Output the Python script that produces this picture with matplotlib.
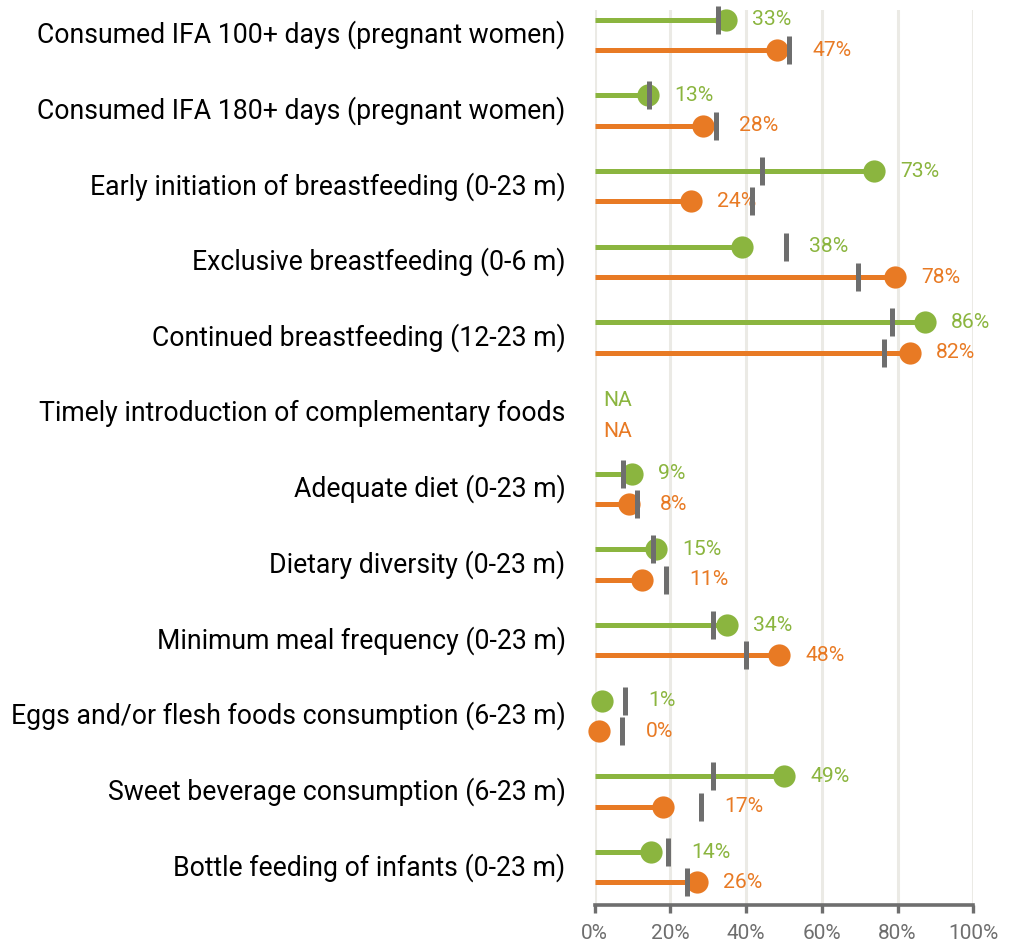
import numpy as np
import matplotlib
matplotlib.use("Agg")
import matplotlib.pyplot as plt

plt.rcParams["font.family"] = ["Roboto", "DejaVu Sans"]

# -------------------- Data --------------------

categories = [
    "Consumed IFA 100+ days (pregnant women)",
    "Consumed IFA 180+ days (pregnant women)",
    "Early initiation of breastfeeding (0-23 m)",
    "Exclusive breastfeeding (0-6 m)",
    "Continued breastfeeding (12-23 m)",
    "Timely introduction of complementary foods",
    "Adequate diet (0-23 m)",
    "Dietary diversity (0-23 m)",
    "Minimum meal frequency (0-23 m)",
    "Eggs and/or flesh foods consumption (6-23 m)",
    "Sweet beverage consumption (6-23 m)",
    "Bottle feeding of infants (0-23 m)",
]

# green series: dot value, reference marker, printed label (None = NA)
green_values = [34.6, 14.2, 73.8, 38.8, 87.2, None, 9.8, 16.2, 34.9, 2.0, 50.1, 14.9]
green_targets = [32.6, 14.4, 44.3, 50.4, 78.4, None, 7.4, 15.4, 31.3, 7.9, 31.2, 19.4]
green_labels = [33, 13, 73, 38, 86, None, 9, 15, 34, 1, 49, 14]

# orange series
orange_values = [48.1, 28.5, 25.4, 79.3, 83.3, None, 9.1, 12.5, 48.7, 1.1, 18.1, 27.1]
orange_targets = [51.3, 32.0, 41.5, 69.5, 76.5, None, 11.1, 18.9, 40.0, 7.3, 28.0, 24.5]
orange_labels = [47, 28, 24, 78, 82, None, 8, 11, 48, 0, 17, 26]

x_ticks = [0, 20, 40, 60, 80, 100]

GREEN = "#8bb53f"
ORANGE = "#e87a24"
GRAY = "#6e6e6e"
GRID = "#ebeae5"

# -------------------- Plot --------------------

fig = plt.figure(figsize=(10.1, 9.44), dpi=100)
ax = fig.add_axes([0.5888, 0.0413, 0.3749, 0.9481])

n = len(categories)
y = np.arange(n)
off = 0.2


def draw_series(vals, targets, labels, dy, color):
    for i in range(n):
        yy = y[i] + dy
        if vals[i] is None:
            ax.annotate("NA", (0, yy), xytext=(6, -2), textcoords="offset points",
                        color=color, fontsize=15.2, va="center", ha="left")
            continue
        ax.plot([0, vals[i]], [yy, yy], color=color, lw=3.6,
                solid_capstyle="butt", zorder=2, clip_on=False)
        ax.plot(vals[i], yy, "o", color=color, ms=16, mew=0, zorder=3, clip_on=False)
        ax.plot(targets[i], yy, "|", color=GRAY, ms=20, mew=3.6, zorder=4, clip_on=False)
        # label sits past the marker if the marker is just ahead of the dot
        if targets[i] - vals[i] < 14:
            lx = max(vals[i] + 6.9, targets[i] + 6.2)
        else:
            lx = vals[i] + 6.9
        ax.text(lx, yy, f"{labels[i]}%", color=color, fontsize=15.2,
                va="center", ha="left", clip_on=False)


draw_series(green_values, green_targets, green_labels, -off, GREEN)
draw_series(orange_values, orange_targets, orange_labels, off, ORANGE)

ax.set_xlim(0, 100)
ax.set_ylim(n - 0.5, -0.33)

ax.set_xticks(x_ticks)
ax.set_xticklabels([f"{t}%" for t in x_ticks])
ax.set_yticks(y)
ax.set_yticklabels(categories, fontsize=19.2, va="center")
ax.tick_params(axis="y", length=0, pad=21, colors="black")
ax.tick_params(axis="x", length=6, width=2.4, color=GRAY, labelcolor=GRAY,
               labelsize=15, pad=8)

ax.grid(axis="x", color=GRID, lw=2.2, zorder=0)
ax.set_axisbelow(True)
for s in ["top", "right", "left"]:
    ax.spines[s].set_visible(False)
ax.spines["bottom"].set_color(GRAY)
ax.spines["bottom"].set_linewidth(2.6)

fig.savefig("out.png", dpi=100)
